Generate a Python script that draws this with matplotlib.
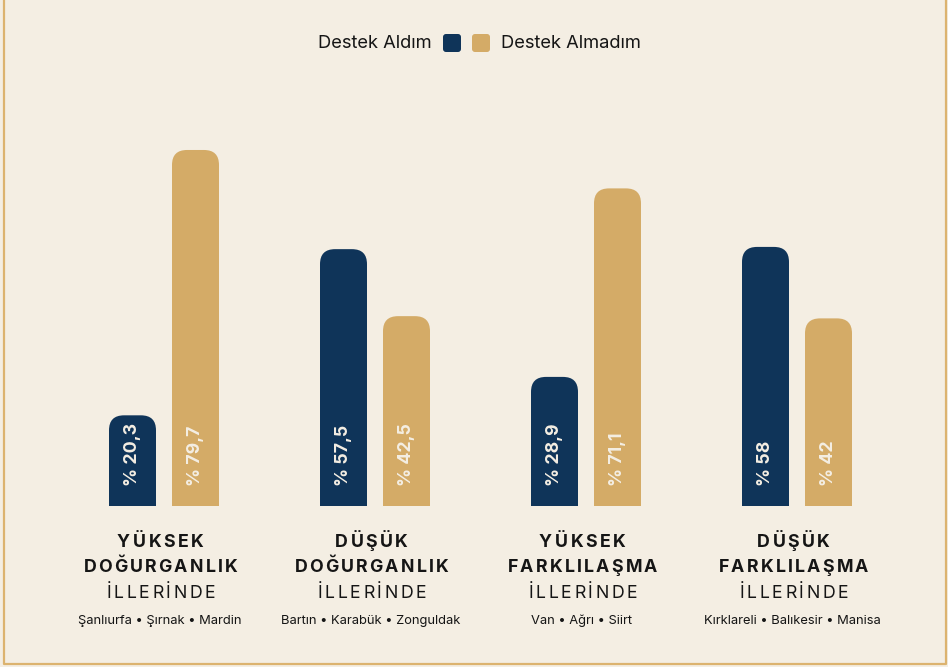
import numpy as np
import matplotlib
matplotlib.use("Agg")
import matplotlib.pyplot as plt
from matplotlib.patches import FancyBboxPatch, Rectangle
from matplotlib.lines import Line2D
from matplotlib.font_manager import FontProperties, findfont, get_font
from matplotlib.ft2font import Kerning, LoadFlags
from matplotlib.transforms import blended_transform_factory, IdentityTransform, offset_copy

plt.rcParams['font.family'] = ['Inter', 'DejaVu Sans']

BG = '#f4eee3'
NAVY = '#0f3459'
GOLD = '#d4ab67'
BORDER = '#dcb36f'
INK = '#151515'

series_names = ['Destek Aldım', 'Destek Almadım']
aldim = [20.3, 57.5, 28.9, 58]
almadim = [79.7, 42.5, 71.1, 42]
aldim_lbl = ['% 20,3', '% 57,5', '% 28,9', '% 58']
almadim_lbl = ['% 79,7', '% 42,5', '% 71,1', '% 42']
head1 = ['YÜKSEK', 'DÜŞÜK', 'YÜKSEK', 'DÜŞÜK']
head2 = ['DOĞURGANLIK', 'DOĞURGANLIK', 'FARKLILAŞMA', 'FARKLILAŞMA']
head3 = ['İLLERİNDE'] * 4
cities = ['Şanlıurfa • Şırnak • Mardin', 'Bartın • Karabük • Zonguldak',
          'Van • Ağrı • Siirt', 'Kırklareli • Balıkesir • Manisa']

W, H = 948, 667
fig = plt.figure(figsize=(W / 100, H / 100), dpi=100, facecolor=BG)

# axes placed in pixels: baseline at y=506, 4.467 px per unit, 211 px per group
px_unit = 4.467
ax = fig.add_axes([58.5 / W, 161 / H, 844 / W, 100 * px_unit / H])
ax.set_xlim(-0.5, 3.5)
ax.set_ylim(0, 100)
ax.axis('off')

bw = 47 / 211
off = 31.5 / 211
r = 15 / 211
aspect = (1 / px_unit) / (1 / 211)
TXT_SHIFT = -4.5  # group captions sit a little left of the bar pair

def rounded_bar(xc, h, color):
    x0 = xc - bw / 2
    ax.add_patch(FancyBboxPatch((x0, 0), bw, h,
                                boxstyle=f"round,pad=0,rounding_size={r}",
                                mutation_aspect=aspect, fc=color, ec='none'))
    ax.add_patch(Rectangle((x0, 0), bw, h / 2, fc=color, ec='none'))

x = np.arange(len(aldim))
for i in x:
    rounded_bar(i - off, aldim[i], NAVY)
    rounded_bar(i + off, almadim[i], GOLD)
    ax.text(i - off, 20 / px_unit, aldim_lbl[i], rotation=90, ha='center', va='bottom',
            color=BG, fontsize=12.8, fontweight='bold')
    ax.text(i + off, 20 / px_unit, almadim_lbl[i], rotation=90, ha='center', va='bottom',
            color=BG, fontsize=12.8, fontweight='bold')

tr = blended_transform_factory(ax.transData, IdentityTransform())
tr = offset_copy(tr, fig=fig, x=TXT_SHIFT, units='dots')

def spaced_text(xc, ypix, s, spacing, size, weight):
    # letter-spaced caption: one text per glyph, placed by font advances
    fp = FontProperties(family='Inter', size=size, weight=weight)
    font = get_font(findfont(fp))
    font.set_size(size, fig.dpi)
    inks, cur, prev = [], 0.0, None
    for c in s:
        idx = font.get_char_index(ord(c))
        if prev is not None:
            cur += font.get_kerning(prev, idx, Kerning.DEFAULT) / 64 + spacing
        g = font.load_char(ord(c), flags=LoadFlags.NO_HINTING)
        inks.append(cur + g.horiBearingX / 64)
        cur += g.linearHoriAdvance / 65536
        prev = idx
    x0 = ax.transData.transform((xc, 0))[0] + TXT_SHIFT - cur / 2
    base = ypix - 0.727 * size * fig.dpi / 72 / 2
    for c, lx in zip(s, inks):
        fig.text(x0 + lx, base, c, transform=IdentityTransform(), fontproperties=fp,
                 ha='left', va='baseline', color=INK)

for i in x:
    spaced_text(i, H - 541, head1[i], 2.4, 12.8, 'bold')
    spaced_text(i, H - 566, head2[i], 2.2, 12.8, 'bold')
    spaced_text(i, H - 592, head3[i], 2.5, 12.8, 'normal')
    ax.text(i, H - 621, cities[i], transform=tr, ha='center', va='center',
            fontsize=9.3, color=INK)

# legend
ly = H - 43
fig.text(432, ly, series_names[0], transform=IdentityTransform(), ha='right',
         va='center', fontsize=13.2, color=INK)
fig.text(501, ly, series_names[1], transform=IdentityTransform(), ha='left',
         va='center', fontsize=13.2, color=INK)
for x0, col in [(443, NAVY), (472, GOLD)]:
    fig.patches.append(FancyBboxPatch((x0, ly - 9), 18, 18,
                                      boxstyle="round,pad=0,rounding_size=3",
                                      fc=col, ec='none', transform=IdentityTransform(),
                                      figure=fig))

# frame (left, bottom, right)
fig.add_artist(Line2D([3.5, 3.5, 945.5, 945.5], [H, H - 663.5, H - 663.5, H],
                      transform=IdentityTransform(), color=BORDER, lw=1.6))

fig.savefig('out.png', dpi=100, facecolor=BG)
